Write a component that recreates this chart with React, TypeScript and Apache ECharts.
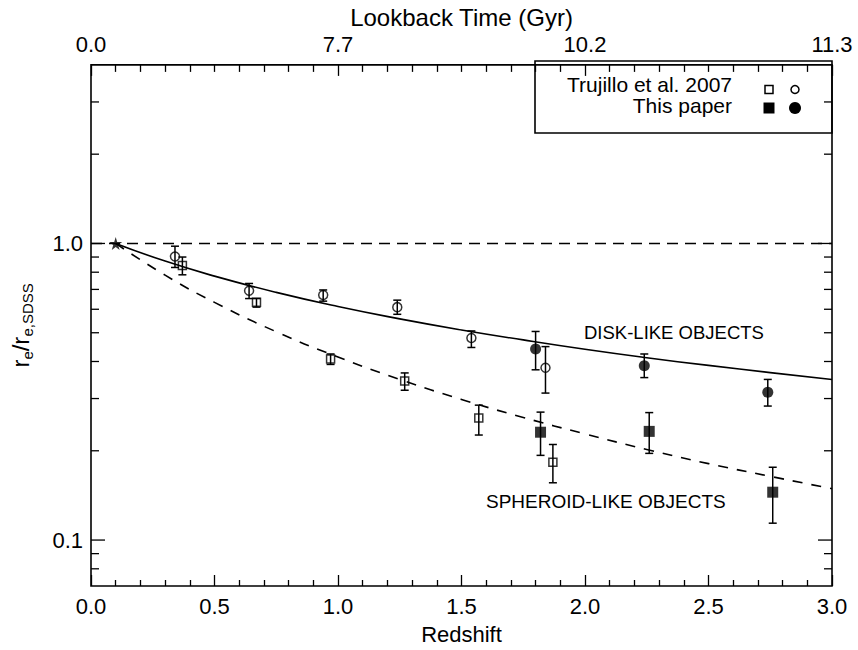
import React, { useEffect, useRef } from "react";
import * as echarts from "echarts";

// ---- data ----
const redshiftTicks = [0, 1, 2, 3];
const lookbackLabels = ["0.0", "7.7", "10.2", "11.3"];

const yLabelValues = [0.1, 1.0];
const yMajorTicks = [0.1, 1.0];
const yMinorTicks = [0.08, 0.09, 0.2, 0.3, 0.4, 0.5, 0.6, 0.7, 0.8, 0.9, 2, 3];

// Trujillo et al. 2007, disk-like (open circles)
const tDiskZ = [0.34, 0.64, 0.94, 1.24, 1.54, 1.84];
const tDiskR = [0.904, 0.693, 0.67, 0.61, 0.48, 0.381];
const tDiskLo = [0.83, 0.652, 0.639, 0.577, 0.446, 0.313];
const tDiskHi = [0.979, 0.733, 0.697, 0.644, 0.507, 0.449];

// Trujillo et al. 2007, spheroid-like (open squares)
const tSphZ = [0.37, 0.67, 0.97, 1.27, 1.57, 1.87];
const tSphR = [0.842, 0.634, 0.408, 0.344, 0.258, 0.183];
const tSphLo = [0.784, 0.61, 0.391, 0.32, 0.226, 0.156];
const tSphHi = [0.9, 0.652, 0.424, 0.366, 0.285, 0.21];

// This paper, disk-like (filled circles)
const pDiskZ = [1.8, 2.24, 2.74];
const pDiskR = [0.441, 0.387, 0.315];
const pDiskLo = [0.375, 0.353, 0.283];
const pDiskHi = [0.505, 0.424, 0.348];

// This paper, spheroid-like (filled squares)
const pSphZ = [1.82, 2.26, 2.76];
const pSphR = [0.231, 0.2325, 0.145];
const pSphLo = [0.193, 0.196, 0.114];
const pSphHi = [0.27, 0.269, 0.176];

// local reference point (star)
const starZ = [0.1];
const starR = [1.0];

// fitted curves
const curveZ = [0.1, 0.3, 0.5, 0.75, 1.0, 1.25, 1.5, 1.75, 2.0, 2.25, 2.5, 2.75, 3.0];
const diskCurve = [1.0, 0.872, 0.776, 0.684, 0.613, 0.557, 0.511, 0.473, 0.44, 0.412, 0.388, 0.367, 0.348];
const spheroidCurve = [1.0, 0.782, 0.633, 0.504, 0.414, 0.348, 0.298, 0.259, 0.228, 0.202, 0.181, 0.164, 0.149];

// unity reference line
const unityZ = [0, 3];
const unityR = [1, 1];

const F = "Liberation Sans";
const BLACK = "#000";

const zip2 = (a: number[], b: number[]) => a.map((v, i) => [v, b[i]]);
const zip3 = (a: number[], b: number[], c: number[]) => a.map((v, i) => [v, b[i], c[i]]);

const STAR =
  "path://M50,0 L61,35 L98,35 L68,57 L79,91 L50,70 L21,91 L32,57 L2,35 L39,35 Z";

function errRender(params: any, api: any) {
  const x = api.value(0);
  const lo = api.value(1);
  const hi = api.value(2);
  const p1 = api.coord([x, lo]);
  const p2 = api.coord([x, hi]);
  const w = 4;
  const style = { stroke: BLACK, lineWidth: 1.5 };
  return {
    type: "group",
    children: [
      { type: "line", shape: { x1: p1[0], y1: p1[1], x2: p2[0], y2: p2[1] }, style },
      { type: "line", shape: { x1: p1[0] - w, y1: p1[1], x2: p1[0] + w, y2: p1[1] }, style },
      { type: "line", shape: { x1: p2[0] - w, y1: p2[1], x2: p2[0] + w, y2: p2[1] }, style },
    ],
  };
}

function tickRender(params: any, api: any) {
  const v = api.value(1);
  const len = api.value(2);
  const y = api.coord([0, v])[1];
  const cs = params.coordSys;
  const style = { stroke: BLACK, lineWidth: 1.3 };
  return {
    type: "group",
    children: [
      { type: "line", shape: { x1: cs.x, y1: y, x2: cs.x + len, y2: y }, style },
      { type: "line", shape: { x1: cs.x + cs.width - len, y1: y, x2: cs.x + cs.width, y2: y }, style },
    ],
  };
}

export default function App() {
  const ref = useRef<HTMLDivElement>(null);

  useEffect(() => {
    if (!ref.current) return;
    const chart = echarts.init(ref.current, undefined, { renderer: "svg" });

    const tickData = [
      ...yMajorTicks.map((v) => [0, v, 14]),
      ...yMinorTicks.map((v) => [0, v, 8]),
    ];

    const option: any = {
      animation: false,
      backgroundColor: "#fff",
      textStyle: { fontFamily: F, color: BLACK },
      grid: {
        left: 90,
        right: 26,
        top: 61,
        bottom: 62,
        show: true,
        borderColor: BLACK,
        borderWidth: 1.6,
        backgroundColor: "transparent",
      },
      xAxis: [
        {
          type: "value",
          position: "bottom",
          min: 0,
          max: 3,
          interval: 0.5,
          axisLine: { show: false },
          axisTick: { show: true, inside: true, length: 11, lineStyle: { color: BLACK, width: 1.3 } },
          minorTick: { show: true, splitNumber: 5, length: 6, lineStyle: { color: BLACK, width: 1.3 } },
          splitLine: { show: false },
          minorSplitLine: { show: false },
          axisLabel: {
            color: BLACK,
            fontSize: 22,
            fontFamily: F,
            margin: 9,
            formatter: (v: number) => v.toFixed(1),
          },
          name: "Redshift",
          nameLocation: "middle",
          nameGap: 37,
          nameTextStyle: { fontSize: 22, color: BLACK, fontFamily: F },
        },
        {
          type: "value",
          position: "top",
          min: 0,
          max: 3,
          interval: 1,
          axisLine: { show: false },
          axisTick: { show: true, inside: true, length: 11, lineStyle: { color: BLACK, width: 1.3 } },
          minorTick: { show: true, splitNumber: 10, length: 7, lineStyle: { color: BLACK, width: 1.3 } },
          splitLine: { show: false },
          minorSplitLine: { show: false },
          axisLabel: {
            color: BLACK,
            fontSize: 22,
            fontFamily: F,
            margin: 9,
            formatter: (v: number) => {
              const i = redshiftTicks.findIndex((t) => Math.abs(t - v) < 1e-6);
              return i >= 0 ? lookbackLabels[i] : "";
            },
          },
          name: "Lookback Time (Gyr)",
          nameLocation: "middle",
          nameGap: 30,
          nameTextStyle: { fontSize: 24, color: BLACK, fontFamily: F },
        },
      ],
      yAxis: {
        type: "log",
        logBase: 10,
        min: 0.07,
        max: 4,
        axisLine: { show: false },
        axisTick: { show: false },
        splitLine: { show: false },
        axisLabel: {
          color: BLACK,
          fontSize: 22,
          fontFamily: F,
          margin: 8,
          showMinLabel: false,
          showMaxLabel: false,
          formatter: (v: number) => {
            const i = yLabelValues.findIndex((t) => Math.abs(t - v) < 1e-6);
            return i >= 0 ? yLabelValues[i].toFixed(1) : "";
          },
        },
        name: "{a|r}{b|e}{a|/r}{b|e,SDSS}",
        nameLocation: "middle",
        nameGap: 56,
        nameTextStyle: {
          color: BLACK,
          fontFamily: F,
          rich: {
            a: { fontSize: 24, fontFamily: F, color: BLACK, lineHeight: 30, verticalAlign: "middle" },
            b: { fontSize: 15, fontFamily: F, color: BLACK, lineHeight: 15, verticalAlign: "bottom", padding: [10, 0, 0, 0] },
          },
        },
      },
      graphic: [
        {
          type: "rect",
          shape: { x: 535, y: 61, width: 297, height: 72 },
          style: { fill: "none", stroke: BLACK, lineWidth: 1.6 },
          z: 100,
        },
        {
          type: "text",
          x: 732,
          y: 84,
          style: {
            text: "Trujillo et al. 2007",
            fontSize: 21,
            fontFamily: F,
            fill: BLACK,
            align: "right",
            verticalAlign: "middle",
          },
          z: 100,
        },
        {
          type: "text",
          x: 732,
          y: 105,
          style: {
            text: "This paper",
            fontSize: 21,
            fontFamily: F,
            fill: BLACK,
            align: "right",
            verticalAlign: "middle",
          },
          z: 100,
        },
        {
          type: "rect",
          shape: { x: 765, y: 85.5, width: 8, height: 8 },
          style: { fill: "none", stroke: BLACK, lineWidth: 1.5 },
          z: 100,
        },
        {
          type: "circle",
          shape: { cx: 795, cy: 89.5, r: 4 },
          style: { fill: "none", stroke: BLACK, lineWidth: 1.5 },
          z: 100,
        },
        {
          type: "rect",
          shape: { x: 763.5, y: 102.5, width: 11, height: 11 },
          style: { fill: BLACK },
          z: 100,
        },
        {
          type: "circle",
          shape: { cx: 795, cy: 108, r: 6 },
          style: { fill: BLACK },
          z: 100,
        },
        {
          type: "text",
          x: 584,
          y: 332,
          style: {
            text: "DISK-LIKE OBJECTS",
            fontSize: 18.5,
            fontFamily: F,
            fill: BLACK,
            align: "left",
            verticalAlign: "middle",
          },
          z: 100,
        },
        {
          type: "text",
          x: 486,
          y: 501,
          style: {
            text: "SPHEROID-LIKE OBJECTS",
            fontSize: 19,
            fontFamily: F,
            fill: BLACK,
            align: "left",
            verticalAlign: "middle",
          },
          z: 100,
        },
      ],
      series: [
        {
          name: "y ticks",
          type: "custom",
          renderItem: tickRender,
          data: tickData,
          encode: { x: 0, y: 1 },
          silent: true,
          clip: false,
          z: 5,
        },
        {
          name: "unity",
          type: "line",
          data: zip2(unityZ, unityR),
          showSymbol: false,
          symbol: "none",
          lineStyle: { color: BLACK, width: 1.5, type: [11, 7] },
          z: 2,
        },
        {
          name: "disk fit",
          type: "line",
          data: zip2(curveZ, diskCurve),
          smooth: true,
          symbol: "none",
          lineStyle: { color: BLACK, width: 1.6, type: "solid" },
          z: 2,
        },
        {
          name: "spheroid fit",
          type: "line",
          data: zip2(curveZ, spheroidCurve),
          smooth: true,
          symbol: "none",
          lineStyle: { color: BLACK, width: 1.6, type: [10, 9] },
          z: 2,
        },
        {
          name: "err tDisk",
          type: "custom",
          renderItem: errRender,
          data: zip3(tDiskZ, tDiskLo, tDiskHi),
          encode: { x: 0, y: [1, 2] },
          z: 3,
        },
        {
          name: "err tSph",
          type: "custom",
          renderItem: errRender,
          data: zip3(tSphZ, tSphLo, tSphHi),
          encode: { x: 0, y: [1, 2] },
          z: 3,
        },
        {
          name: "err pDisk",
          type: "custom",
          renderItem: errRender,
          data: zip3(pDiskZ, pDiskLo, pDiskHi),
          encode: { x: 0, y: [1, 2] },
          z: 3,
        },
        {
          name: "err pSph",
          type: "custom",
          renderItem: errRender,
          data: zip3(pSphZ, pSphLo, pSphHi),
          encode: { x: 0, y: [1, 2] },
          z: 3,
        },
        {
          name: "Trujillo disk",
          type: "scatter",
          data: zip2(tDiskZ, tDiskR),
          symbol: "circle",
          symbolSize: 9,
          itemStyle: { color: "transparent", borderColor: BLACK, borderWidth: 1.5 },
          z: 4,
        },
        {
          name: "Trujillo spheroid",
          type: "scatter",
          data: zip2(tSphZ, tSphR),
          symbol: "rect",
          symbolSize: 8,
          itemStyle: { color: "transparent", borderColor: BLACK, borderWidth: 1.5 },
          z: 4,
        },
        {
          name: "This paper disk",
          type: "scatter",
          data: zip2(pDiskZ, pDiskR),
          symbol: "circle",
          symbolSize: 11,
          itemStyle: { color: BLACK },
          z: 4,
        },
        {
          name: "This paper spheroid",
          type: "scatter",
          data: zip2(pSphZ, pSphR),
          symbol: "rect",
          symbolSize: 11,
          itemStyle: { color: BLACK },
          z: 4,
        },
        {
          name: "local",
          type: "scatter",
          data: zip2(starZ, starR),
          symbol: STAR,
          symbolSize: 13,
          itemStyle: { color: BLACK },
          z: 4,
        },
      ],
    };

    chart.setOption(option);
    return () => chart.dispose();
  }, []);

  return <div ref={ref} style={{ width: 858, height: 650, position: "absolute", left: 0, top: 0 }} />;
}
